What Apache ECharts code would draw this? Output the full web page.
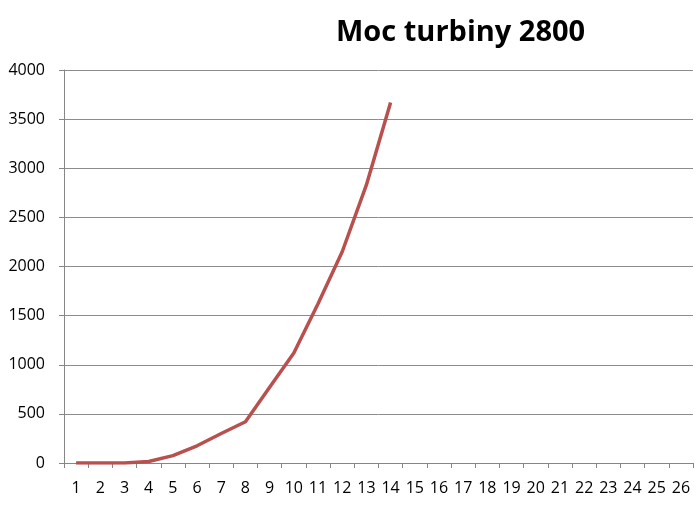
<!DOCTYPE html>
<html>
<head>
<meta charset="utf-8">
<script src="https://cdn.jsdelivr.net/npm/echarts@6/dist/echarts.min.js"></script>
<style>
  html, body { margin: 0; padding: 0; background: #fff; }
  #main { width: 700px; height: 513px; }
</style>
</head>
<body>
<div id="main"></div>
<script>
// values
var categories = [];
for (var i = 1; i <= 26; i++) categories.push(String(i));
var power = [0, 0, 0, 15, 75, 175, 300, 420, 770, 1120, 1620, 2150, 2830, 3670];
var titleText = 'Moc turbiny 2800';

var chart = echarts.init(document.getElementById('main'));

var option = {
  backgroundColor: '#fff',
  animation: false,
  title: {
    text: titleText,
    left: 331,
    top: 13,
    textStyle: {
      fontFamily: 'Open Sans',
      fontWeight: 'bold',
      fontSize: 29,
      color: '#000'
    }
  },
  grid: {
    left: 64,
    right: 7,
    top: 70,
    bottom: 50,
    containLabel: false
  },
  xAxis: {
    type: 'category',
    data: categories,
    boundaryGap: true,
    axisLine: { lineStyle: { color: '#868686', width: 1 } },
    axisTick: { show: true, length: 5, inside: false, lineStyle: { color: '#868686' } },
    axisLabel: {
      interval: 0,
      margin: 17,
      fontFamily: 'Open Sans',
      fontSize: 16,
      color: '#000'
    },
    splitLine: { show: false }
  },
  yAxis: {
    type: 'value',
    min: 0,
    max: 4000,
    interval: 500,
    axisLine: { show: true, lineStyle: { color: '#868686', width: 1 } },
    axisTick: { show: true, length: 5, lineStyle: { color: '#868686' } },
    axisLabel: {
      margin: 19,
      fontFamily: 'Open Sans',
      fontSize: 16,
      color: '#000',
      formatter: function (v) { return String(v); }
    },
    splitLine: { show: true, lineStyle: { color: '#8c8c8c', width: 1 } }
  },
  series: [{
    name: titleText,
    type: 'line',
    data: power,
    symbol: 'none',
    smooth: false,
    lineStyle: { color: '#B8504E', width: 3.5 }
  }]
};

chart.setOption(option);
</script>
</body>
</html>
